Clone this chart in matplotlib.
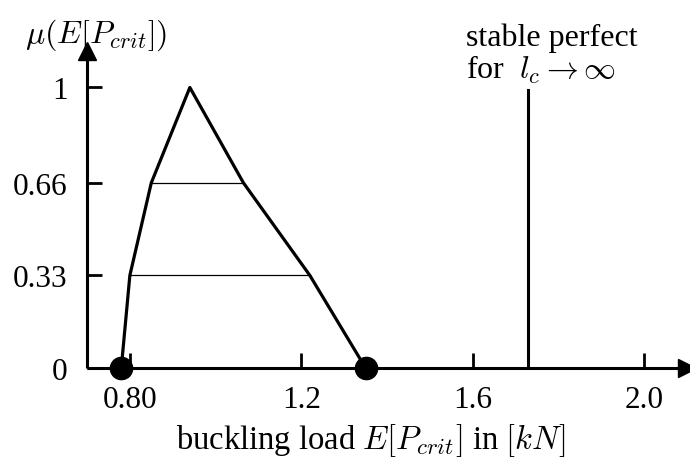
import matplotlib
matplotlib.use("Agg")
import matplotlib.pyplot as plt

plt.rcParams["font.family"] = ["Liberation Serif", "DejaVu Serif"]
plt.rcParams["mathtext.fontset"] = "cm"

# fuzzy membership of the expected critical buckling load
load = [0.78, 0.80, 0.85, 0.94, 1.065, 1.22, 1.35]
mu = [0.0, 0.33, 0.66, 1.0, 0.66, 0.33, 0.0]

# alpha-cuts (level, left bound, right bound)
cut_levels = [0.33, 0.66]
cut_left = [0.80, 0.85]
cut_right = [1.22, 1.065]

# support end points
support = [0.78, 1.35]

# perfect structure reference load
perfect_load = 1.73
perfect_mu = 0.99

xticks = [0.80, 1.2, 1.6, 2.0]
xtick_labels = ["0.80", "1.2", "1.6", "2.0"]
yticks = [0, 0.33, 0.66, 1]
ytick_labels = ["0", "0.33", "0.66", "1"]

x0, x1 = 0.70, 2.10
y0, y1 = 0.0, 1.13

fig = plt.figure(figsize=(6.9, 4.6), dpi=100)
ax = fig.add_axes([87 / 690, 91 / 460, 600 / 690, 317 / 460])
ax.set_xlim(x0, x1)
ax.set_ylim(y0, y1)
for s in ax.spines.values():
    s.set_visible(False)

lw_axis = 2.2
# axes with arrow heads
ax.plot([x0, x1 - 0.02], [0, 0], color="black", lw=lw_axis, clip_on=False, solid_capstyle="butt")
ax.plot([x0, x0], [0, y1 - 0.02], color="black", lw=lw_axis, clip_on=False, solid_capstyle="butt")
ax.plot([x1], [0], marker=">", markersize=13, color="black", clip_on=False)
ax.plot([x0], [y1], marker="^", markersize=13, color="black", clip_on=False)

ax.set_xticks(xticks)
ax.set_xticklabels(xtick_labels)
ax.set_yticks(yticks)
ax.set_yticklabels(ytick_labels)
ax.tick_params(axis="both", direction="in", length=11, width=2, labelsize=22.5, color="black")
ax.tick_params(axis="x", pad=12)
ax.tick_params(axis="y", pad=14)

# membership function
ax.plot(load, mu, color="black", lw=2.3, clip_on=False, zorder=3)
for lev, a, b in zip(cut_levels, cut_left, cut_right):
    ax.plot([a, b], [lev, lev], color="black", lw=0.9, zorder=2)
ax.plot(support, [0, 0], linestyle="none", marker="o", markersize=16,
        color="black", clip_on=False, zorder=4)

# perfect structure
ax.plot([perfect_load, perfect_load], [0, perfect_mu], color="black", lw=2.2)

fig.text(25 / 690, 1 - 35 / 460, r"$\mu(E[P_{crit}])$", fontsize=23, ha="left", va="center")
fig.text(466 / 690, 1 - 46 / 460, "stable perfect", fontsize=23, ha="left", va="baseline")
fig.text(466 / 690, 1 - 79 / 460, r"for  $l_c \rightarrow \infty$", fontsize=23, ha="left", va="baseline")
fig.text(371 / 690, 1 - 449 / 460, r"buckling load $E[P_{crit}]$ in $[kN]$", fontsize=23.5,
         ha="center", va="baseline")

fig.savefig("out.png", dpi=100)
